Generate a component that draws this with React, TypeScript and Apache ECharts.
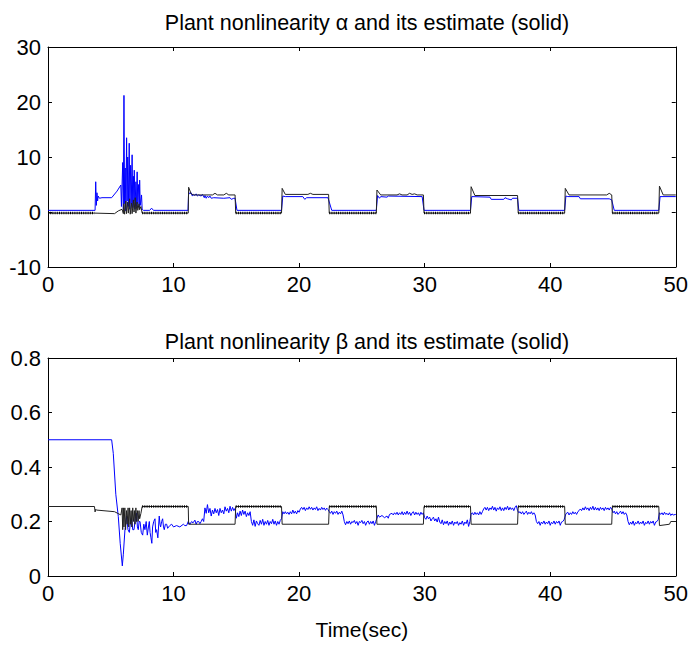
import React, { useEffect, useRef } from "react";
import * as echarts from "echarts";

// ---------- data ----------
const xTicks = [0, 10, 20, 30, 40, 50];

// Plant nonlinearity alpha (true, black)
const alphaTrue: number[][] = [
  [0, -0.2], [3.7, -0.2], [3.72, -0.3], [5.3, -0.3], [5.6, 0.2], [5.9, 0.5],
  [6.0, -0.3], [6.05, 1.5], [6.1, -0.4], [6.2, 2.0], [6.25, -0.3], [6.35, 1.8], [6.4, -0.2],
  [6.5, 2.4], [6.55, -0.4], [6.65, 1.6], [6.7, -0.3], [6.8, 2.2], [6.85, 0.0], [6.95, 2.6],
  [7.0, -0.2], [7.1, 1.8], [7.15, 0.3], [7.25, 1.5], [7.3, 0.4], [7.4, 1.0], [7.5, -0.2],
  [11.17, -0.2], [11.2, 4.5], [11.4, 3.3], [11.6, 3.1], [13.1, 3.1], [13.3, 3.4], [13.5, 3.1],
  [14.0, 3.1], [14.2, 3.4], [14.4, 3.1], [14.9, 3.1], [14.95, -0.2], [18.6, -0.2],
  [18.65, 4.3], [18.9, 3.2], [20.7, 3.2], [20.9, 3.4], [21.1, 3.2], [22.35, 3.2], [22.4, -0.2],
  [26.15, -0.2], [26.2, 4.0], [26.5, 3.1], [27.8, 3.1], [28.0, 3.3], [28.2, 3.1], [28.6, 3.1],
  [28.8, 3.4], [29.0, 3.2], [29.2, 3.3], [29.4, 3.1], [29.9, 3.1], [29.95, -0.2], [33.65, -0.2],
  [33.7, 4.6], [34.0, 3.0], [37.4, 3.0], [37.45, -0.2], [41.15, -0.2], [41.2, 4.3], [41.5, 3.1],
  [44.5, 3.1], [44.7, 3.4], [44.9, 3.1], [44.95, -0.2], [48.65, -0.2], [48.7, 4.7], [49.0, 3.1],
  [50, 3.1],
];

// Plant nonlinearity alpha estimate (blue)
const alphaEst: number[][] = [
  [0, 0.3], [3.75, 0.3], [3.8, 5.5], [3.85, 1.2], [3.9, 3.5], [3.95, 2.0], [4.0, 2.9], [4.1, 2.5],
  [4.3, 2.6], [5.07, 2.6], [5.5, 3.8], [5.8, 4.9], [5.85, 1.0], [5.95, 9.0], [6.0, 0.5],
  [6.05, 21.2], [6.1, 1.5], [6.15, 8.0], [6.2, 0.2], [6.26, 13.5], [6.3, 2.0], [6.35, 10.0],
  [6.4, 1.0], [6.47, 12.5], [6.52, 0.5], [6.58, 8.5], [6.63, 1.5], [6.7, 10.4], [6.75, 0.8],
  [6.8, 6.5], [6.85, 2.0], [6.87, 7.6], [6.93, 0.5], [7.0, 5.5], [7.05, 1.0], [7.1, 7.3],
  [7.15, 1.5], [7.22, 5.0], [7.27, 0.8], [7.3, 5.8], [7.35, 1.2], [7.45, 3.1], [7.5, 0.5],
  [7.6, 0.3], [8.1, 0.3], [8.25, 0.7], [8.4, 0.3], [11.15, 0.3],
  [11.2, 3.6], [11.3, 3.3], [11.4, 3.5], [11.5, 2.9], [11.6, 3.2], [11.7, 3.0], [11.8, 3.3],
  [11.9, 2.9], [12.0, 3.1], [12.2, 2.9], [12.3, 3.2], [12.45, 2.6], [12.5, 3.0], [12.6, 2.5],
  [12.7, 2.9], [12.8, 2.6], [12.9, 2.9], [13.0, 2.5], [13.2, 2.6], [14.0, 2.5], [14.5, 2.6],
  [14.6, 2.3], [14.8, 2.5], [14.9, 2.5], [15.05, 0.3], [18.6, 0.3],
  [18.7, 2.9], [18.9, 2.8], [20.3, 2.8], [20.45, 2.3], [20.6, 2.6], [22.3, 2.6], [22.6, 0.3],
  [26.15, 0.3], [26.25, 3.0], [26.4, 2.5], [26.5, 2.8], [27.0, 2.7], [27.1, 2.9], [29.8, 2.8],
  [29.95, 0.3], [33.65, 0.3], [33.75, 2.8], [35.2, 2.7], [35.3, 2.3], [36.3, 2.3], [36.4, 2.6],
  [36.6, 2.4], [36.9, 2.2], [37.0, 2.5], [37.4, 2.5], [37.5, 0.3], [41.15, 0.3],
  [41.25, 2.9], [41.4, 2.8], [42.3, 2.8], [42.4, 2.4], [44.7, 2.4], [44.9, 2.2], [45.1, 0.3],
  [48.65, 0.3], [48.75, 2.8], [50, 2.8],
];

// intervals where the true values chatter (drawn dotted)
const alphaChatterSegments: number[][] = [
  [0, 3.7], [7.5, 11.17], [14.95, 18.6], [22.4, 26.15], [29.95, 33.65], [37.45, 41.15], [44.95, 48.65],
];
const alphaChatterLevel = -0.2;
const betaChatterSegments: number[][] = [
  [7.5, 11.17], [14.95, 18.6], [22.4, 26.15], [29.95, 33.65], [37.45, 41.15], [44.95, 48.65],
];
const betaChatterLevel = 0.255;

// Plant nonlinearity beta (true, black)
const betaTrue: number[][] = [
  [0, 0.255], [3.7, 0.255], [3.75, 0.235], [3.8, 0.245], [3.85, 0.242], [5.3, 0.236], [5.8, 0.224],
  [5.9, 0.25], [5.95, 0.17], [6.0, 0.25], [6.05, 0.18], [6.12, 0.25], [6.18, 0.17], [6.25, 0.24],
  [6.3, 0.19], [6.38, 0.25], [6.43, 0.18], [6.5, 0.25], [6.55, 0.19], [6.62, 0.24], [6.68, 0.18],
  [6.75, 0.25], [6.8, 0.2], [6.88, 0.24], [6.93, 0.19], [7.0, 0.25], [7.05, 0.2], [7.12, 0.24],
  [7.18, 0.2], [7.25, 0.24], [7.3, 0.21], [7.4, 0.23], [7.5, 0.255], [11.17, 0.255], [11.2, 0.19],
  [14.9, 0.19], [14.95, 0.255], [18.6, 0.255], [18.65, 0.19], [22.35, 0.19], [22.4, 0.255],
  [26.15, 0.255], [26.2, 0.19], [29.9, 0.19], [29.95, 0.255], [33.65, 0.255], [33.7, 0.19],
  [37.4, 0.19], [37.45, 0.255], [41.15, 0.255], [41.2, 0.19], [44.9, 0.19], [44.95, 0.255],
  [48.65, 0.255], [48.7, 0.185], [49.5, 0.19], [49.6, 0.2], [50, 0.2],
];

// Plant nonlinearity beta estimate (blue)
const betaEst: number[][] = [
  [0, 0.5], [5.07, 0.5], [5.2, 0.45], [5.4, 0.3], [5.6, 0.218], [5.75, 0.12], [5.92, 0.037],
  [6.0, 0.08], [6.13, 0.17], [6.26, 0.22], [6.37, 0.17], [6.48, 0.16], [6.57, 0.2], [6.66, 0.21],
  [6.75, 0.17], [6.85, 0.17], [6.95, 0.21], [7.06, 0.23], [7.12, 0.18], [7.19, 0.17], [7.26, 0.2],
  [7.33, 0.2], [7.43, 0.16], [7.54, 0.15], [7.63, 0.19], [7.72, 0.17], [7.82, 0.2], [7.91, 0.15],
  [8.0, 0.18], [8.07, 0.2], [8.13, 0.16], [8.2, 0.14], [8.27, 0.12], [8.33, 0.18], [8.42, 0.2],
  [8.52, 0.21], [8.58, 0.16], [8.65, 0.17], [8.75, 0.14], [8.86, 0.22], [8.92, 0.19], [8.97, 0.18],
  [9.05, 0.2], [9.13, 0.21], [9.2, 0.18], [9.26, 0.17], [9.35, 0.19], [9.45, 0.19], [9.53, 0.175],
  [9.61, 0.18], [9.7, 0.185], [9.85, 0.19], [10.0, 0.18], [10.24, 0.185], [10.5, 0.18],
  [10.78, 0.19], [10.9, 0.185], [11.04, 0.185], [11.17, 0.2], [11.3, 0.19], [11.44, 0.2],
  [11.55, 0.195], [11.7, 0.205], [11.8, 0.19], [11.9, 0.2], [12.0, 0.2], [12.1, 0.192],
  [12.2, 0.2], [12.3, 0.21], [12.4, 0.2], [12.5, 0.25], [12.6, 0.23], [12.7, 0.262], [12.8, 0.232],
  [12.9, 0.248], [13.0, 0.22], [13.1, 0.242], [13.2, 0.228], [13.3, 0.248], [13.4, 0.232],
  [13.5, 0.244], [13.6, 0.222], [13.7, 0.248], [13.8, 0.232], [13.9, 0.242], [14.0, 0.228],
  [14.1, 0.254], [14.2, 0.238], [14.3, 0.248], [14.4, 0.232], [14.5, 0.256], [14.6, 0.238],
  [14.7, 0.252], [14.8, 0.24], [14.9, 0.248],
  [15.0, 0.212], [15.1, 0.232], [15.2, 0.218], [15.3, 0.238], [15.4, 0.222], [15.5, 0.242],
  [15.6, 0.226], [15.7, 0.238], [15.8, 0.218], [15.9, 0.232], [16.0, 0.222], [16.1, 0.236],
  [16.2, 0.2], [16.3, 0.186], [16.4, 0.206], [16.5, 0.182], [16.6, 0.202], [16.7, 0.192],
  [16.8, 0.186], [16.9, 0.204], [17.0, 0.19], [17.1, 0.208], [17.2, 0.186], [17.3, 0.2],
  [17.4, 0.19], [17.5, 0.204], [17.6, 0.186], [17.7, 0.2], [17.8, 0.192], [17.9, 0.208],
  [18.0, 0.19], [18.1, 0.202], [18.2, 0.186], [18.3, 0.2], [18.4, 0.19], [18.5, 0.204], [18.6, 0.21],
  [18.7, 0.236], [18.8, 0.228], [18.9, 0.236], [19.0, 0.228], [19.1, 0.234], [19.2, 0.226],
  [19.3, 0.236], [19.4, 0.228], [19.5, 0.242], [19.6, 0.23], [19.7, 0.238], [19.8, 0.228],
  [19.9, 0.24], [20.0, 0.234], [20.1, 0.246], [20.2, 0.252], [20.3, 0.244], [20.4, 0.252],
  [20.5, 0.24], [20.6, 0.25], [20.7, 0.244], [20.8, 0.254], [20.9, 0.245], [21.0, 0.252],
  [21.1, 0.242], [21.2, 0.25], [21.3, 0.244], [21.4, 0.254], [21.5, 0.24], [21.6, 0.248],
  [21.7, 0.242], [21.8, 0.252], [21.9, 0.244], [22.0, 0.25], [22.1, 0.241], [22.2, 0.249],
  [22.3, 0.244], [22.4, 0.236], [22.5, 0.23], [22.6, 0.238], [22.7, 0.226], [22.8, 0.236],
  [22.9, 0.23], [23.0, 0.238], [23.1, 0.226], [23.2, 0.234], [23.3, 0.228], [23.4, 0.238],
  [23.5, 0.224], [23.6, 0.2], [23.7, 0.188], [23.8, 0.2], [23.9, 0.192], [24.0, 0.202],
  [24.1, 0.19], [24.2, 0.2], [24.3, 0.196], [24.4, 0.204], [24.5, 0.192], [24.6, 0.2],
  [24.7, 0.186], [24.8, 0.2], [24.9, 0.196], [25.0, 0.204], [25.1, 0.192], [25.2, 0.2],
  [25.3, 0.186], [25.4, 0.198], [25.5, 0.202], [25.6, 0.19], [25.7, 0.2], [25.8, 0.192],
  [25.9, 0.202], [26.0, 0.186], [26.1, 0.2],
  [26.3, 0.224], [26.4, 0.216], [26.6, 0.222], [26.8, 0.214], [27.0, 0.22], [27.1, 0.212],
  [27.2, 0.226], [27.4, 0.23], [27.5, 0.224], [27.6, 0.232], [27.7, 0.226], [27.8, 0.234],
  [27.9, 0.224], [28.0, 0.232], [28.1, 0.226], [28.2, 0.236], [28.3, 0.224], [28.4, 0.234],
  [28.5, 0.226], [28.6, 0.238], [28.7, 0.226], [28.8, 0.234], [28.9, 0.222], [29.0, 0.232],
  [29.1, 0.236], [29.2, 0.224], [29.3, 0.234], [29.4, 0.226], [29.5, 0.232], [29.6, 0.222],
  [29.7, 0.234], [29.8, 0.226], [29.9, 0.232],
  [30.0, 0.214], [30.1, 0.208], [30.2, 0.22], [30.3, 0.21], [30.4, 0.216], [30.5, 0.202],
  [30.6, 0.21], [30.7, 0.216], [30.8, 0.202], [30.9, 0.21], [31.0, 0.198], [31.1, 0.216],
  [31.2, 0.198], [31.3, 0.192], [31.4, 0.206], [31.5, 0.188], [31.6, 0.2], [31.7, 0.192],
  [31.8, 0.202], [31.9, 0.186], [32.0, 0.198], [32.1, 0.19], [32.2, 0.202], [32.3, 0.186],
  [32.4, 0.198], [32.5, 0.192], [32.6, 0.2], [32.7, 0.186], [32.8, 0.196], [32.9, 0.19],
  [33.0, 0.202], [33.1, 0.186], [33.2, 0.198], [33.3, 0.192], [33.4, 0.206], [33.5, 0.182],
  [33.6, 0.2],
  [33.7, 0.228], [33.8, 0.232], [33.9, 0.224], [34.0, 0.234], [34.1, 0.226], [34.2, 0.232],
  [34.3, 0.224], [34.4, 0.236], [34.5, 0.226], [34.6, 0.236], [34.7, 0.246], [34.8, 0.252],
  [34.9, 0.242], [35.0, 0.252], [35.1, 0.24], [35.2, 0.25], [35.3, 0.244], [35.4, 0.256],
  [35.5, 0.242], [35.6, 0.252], [35.7, 0.238], [35.8, 0.25], [35.9, 0.244], [36.0, 0.254],
  [36.1, 0.24], [36.2, 0.25], [36.3, 0.24], [36.4, 0.252], [36.5, 0.244], [36.6, 0.256],
  [36.7, 0.242], [36.8, 0.252], [36.9, 0.244], [37.0, 0.25], [37.1, 0.24], [37.2, 0.252],
  [37.3, 0.258], [37.4, 0.24],
  [37.5, 0.232], [37.6, 0.236], [37.7, 0.228], [37.8, 0.236], [37.9, 0.226], [38.0, 0.232],
  [38.1, 0.238], [38.2, 0.226], [38.3, 0.234], [38.4, 0.228], [38.5, 0.236], [38.6, 0.226],
  [38.7, 0.232], [38.8, 0.224], [38.9, 0.2], [39.0, 0.192], [39.1, 0.2], [39.2, 0.186],
  [39.3, 0.198], [39.4, 0.192], [39.5, 0.202], [39.6, 0.19], [39.7, 0.198], [39.8, 0.192],
  [39.9, 0.202], [40.0, 0.186], [40.1, 0.197], [40.2, 0.192], [40.3, 0.202], [40.4, 0.19],
  [40.5, 0.2], [40.6, 0.194], [40.7, 0.202], [40.8, 0.186], [40.9, 0.198], [41.0, 0.2],
  [41.1, 0.206],
  [41.25, 0.228], [41.4, 0.234], [41.5, 0.224], [41.6, 0.232], [41.7, 0.226], [41.8, 0.236],
  [41.9, 0.228], [42.0, 0.234], [42.1, 0.226], [42.2, 0.236], [42.3, 0.24], [42.4, 0.246],
  [42.5, 0.24], [42.6, 0.25], [42.7, 0.242], [42.8, 0.254], [42.9, 0.244], [43.0, 0.25],
  [43.1, 0.24], [43.2, 0.252], [43.3, 0.244], [43.4, 0.256], [43.5, 0.242], [43.6, 0.252],
  [43.7, 0.242], [43.8, 0.25], [43.9, 0.24], [44.0, 0.252], [44.1, 0.244], [44.2, 0.25],
  [44.3, 0.24], [44.4, 0.252], [44.5, 0.244], [44.6, 0.25], [44.7, 0.242], [44.8, 0.252],
  [44.9, 0.246],
  [45.0, 0.232], [45.1, 0.238], [45.2, 0.228], [45.3, 0.236], [45.4, 0.226], [45.5, 0.232],
  [45.6, 0.238], [45.7, 0.228], [45.8, 0.236], [45.9, 0.226], [46.0, 0.232], [46.1, 0.224],
  [46.2, 0.2], [46.3, 0.188], [46.4, 0.198], [46.5, 0.19], [46.6, 0.202], [46.7, 0.186],
  [46.8, 0.197], [46.9, 0.192], [47.0, 0.202], [47.1, 0.19], [47.2, 0.198], [47.3, 0.192],
  [47.4, 0.202], [47.5, 0.186], [47.6, 0.197], [47.7, 0.192], [47.8, 0.202], [47.9, 0.19],
  [48.0, 0.2], [48.1, 0.194], [48.2, 0.202], [48.3, 0.186], [48.4, 0.198], [48.5, 0.2],
  [48.6, 0.206],
  [48.7, 0.232], [48.8, 0.226], [48.9, 0.232], [49.0, 0.224], [49.1, 0.234], [49.2, 0.226],
  [49.3, 0.23], [49.4, 0.224], [49.5, 0.232], [49.6, 0.222], [49.7, 0.228], [49.8, 0.224],
  [50, 0.226],
];

const titleAlpha = "Plant nonlinearity \u03b1 and its estimate (solid)";
const titleBeta = "Plant nonlinearity \u03b2 and its estimate (solid)";
const xLabel = "Time(sec)";

// ---------- helpers ----------
const FONT = '"Liberation Sans", Arial, sans-serif';

function chatterData(segs: number[][], level: number): any[] {
  const out: any[] = [];
  segs.forEach((s, i) => {
    if (i > 0) out.push([s[0], "-"]);
    out.push([s[0], level]);
    out.push([s[1], level]);
  });
  return out;
}

function xAxes(grid: number, withLabels: boolean, name?: string) {
  const common = {
    gridIndex: grid,
    type: "value",
    min: 0,
    max: 50,
    interval: 10,
    splitLine: { show: false },
    axisLine: { show: true, onZero: false, lineStyle: { color: "#000", width: 1 } },
    axisTick: { show: true, inside: true, length: 4, lineStyle: { color: "#000" } },
  };
  return [
    {
      ...common,
      position: "bottom",
      axisLabel: { show: withLabels, color: "#000", fontSize: 22, fontFamily: FONT, margin: 6 },
      name: name || "",
      nameLocation: "middle",
      nameGap: 43,
      nameTextStyle: { color: "#000", fontSize: 21, fontFamily: FONT },
    },
    { ...common, position: "top", axisLabel: { show: false } },
  ];
}

function yAxes(grid: number, min: number, max: number, interval: number) {
  const common = {
    gridIndex: grid,
    type: "value",
    min,
    max,
    interval,
    splitLine: { show: false },
    axisLine: { show: true, onZero: false, lineStyle: { color: "#000", width: 1 } },
    axisTick: { show: true, inside: true, length: 4, lineStyle: { color: "#000" } },
  };
  return [
    {
      ...common,
      position: "left",
      axisLabel: { color: "#000", fontSize: 22, fontFamily: FONT, margin: 7 },
    },
    { ...common, position: "right", axisLabel: { show: false } },
  ];
}

function line(data: any[], xi: number, yi: number, color: string, width: number, type: any = "solid", z = 2) {
  return {
    type: "line",
    xAxisIndex: xi,
    yAxisIndex: yi,
    data,
    showSymbol: false,
    symbol: "none",
    connectNulls: false,
    z,
    lineStyle: { color, width, type },
  };
}

export default function App() {
  const ref = useRef<HTMLDivElement>(null);
  useEffect(() => {
    if (!ref.current) return;
    const chart = echarts.init(ref.current, undefined, { renderer: "svg" });
    const grids = [
      { left: 48, top: 47, width: 628, height: 220 },
      { left: 48, top: 358, width: 628, height: 218 },
    ];
    chart.setOption({
      animation: false,
      backgroundColor: "#fff",
      title: [
        {
          text: titleAlpha,
          left: 362,
          top: 7,
          textAlign: "center",
          textStyle: { color: "#000", fontWeight: "normal", fontSize: 21.5, fontFamily: FONT },
        },
        {
          text: titleBeta,
          left: 362,
          top: 326,
          textAlign: "center",
          textStyle: { color: "#000", fontWeight: "normal", fontSize: 21.5, fontFamily: FONT },
        },
      ],
      grid: grids,
      xAxis: [...xAxes(0, true), ...xAxes(1, true, xLabel)],
      yAxis: [...yAxes(0, -10, 30, 10), ...yAxes(1, 0, 0.8, 0.2)],
      series: [
        line(alphaEst, 0, 0, "#0000ff", 1, "solid", 2),
        line(alphaTrue, 0, 0, "#222", 1, "solid", 3),
        line(chatterData(alphaChatterSegments, alphaChatterLevel), 0, 0, "#000", 2.5, [1, 1.2], 4),
        line(betaEst, 2, 2, "#0000ff", 1, "solid", 2),
        line(betaTrue, 2, 2, "#222", 1, "solid", 3),
        line(chatterData(betaChatterSegments, betaChatterLevel), 2, 2, "#000", 2.5, [1, 1.2], 4),
      ],
    });
    return () => chart.dispose();
  }, []);
  return (
    <div
      ref={ref}
      style={{ position: "fixed", left: 0, top: 0, width: 691, height: 646, background: "#fff" }}
    />
  );
}
